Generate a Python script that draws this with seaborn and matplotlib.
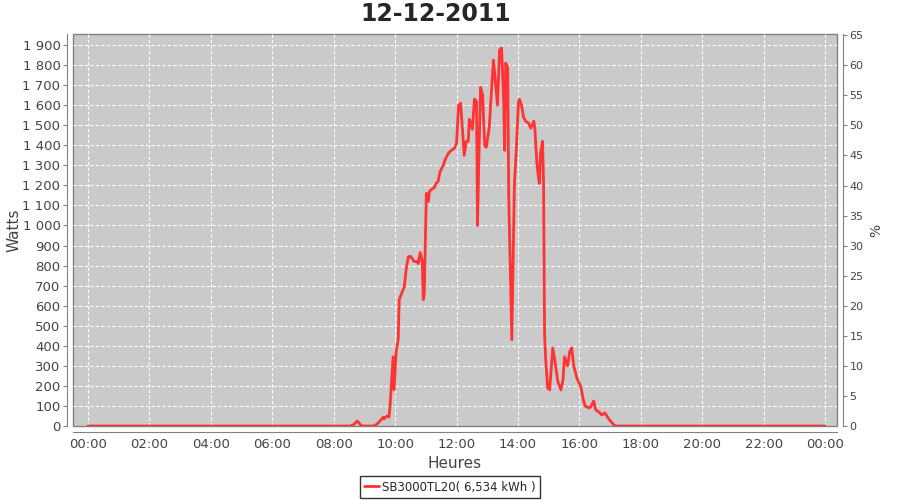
import numpy as np
import pandas as pd
import matplotlib
matplotlib.use("Agg")
import matplotlib.pyplot as plt
import matplotlib.ticker as mticker
import seaborn as sns

# Production du 12-12-2011 (heure, watts)
heures = ["00:00", "08:32", "08:38", "08:46", "08:51", "08:55", "09:19", "09:27",
          "09:37", "09:38", "09:44", "09:48", "09:50", "09:56", "09:58", "10:02",
          "10:06", "10:08", "10:14", "10:18", "10:22", "10:26", "10:31", "10:37",
          "10:43", "10:45", "10:49", "10:53", "10:55", "10:57", "11:01", "11:05",
          "11:07", "11:11", "11:17", "11:20", "11:24", "11:28", "11:34", "11:38",
          "11:44", "11:50", "11:56", "12:00", "12:04", "12:08", "12:11", "12:15",
          "12:19", "12:23", "12:25", "12:31", "12:35", "12:39", "12:41", "12:43",
          "12:47", "12:51", "12:55", "12:58", "13:04", "13:08", "13:12", "13:14",
          "13:20", "13:24", "13:28", "13:32", "13:34", "13:36", "13:40", "13:42",
          "13:48", "13:51", "13:53", "13:57", "14:01", "14:03", "14:07", "14:11",
          "14:15", "14:21", "14:25", "14:31", "14:33", "14:37", "14:40", "14:42",
          "14:44", "14:48", "14:50", "14:52", "14:54", "14:58", "15:02", "15:08",
          "15:12", "15:18", "15:24", "15:28", "15:31", "15:37", "15:41", "15:45",
          "15:49", "15:55", "16:03", "16:07", "16:11", "16:19", "16:22", "16:28",
          "16:32", "16:38", "16:44", "16:50", "16:56", "17:04", "17:10", "24:00"]
watts = [0, 0, 5, 25, 10, 0, 0, 15,
         45, 35, 50, 45, 95, 345, 180, 370,
         430, 630, 670, 695, 790, 845, 845, 820,
         820, 810, 865, 820, 630, 665, 1160, 1120,
         1170, 1180, 1190, 1210, 1220, 1270, 1300, 1330,
         1360, 1375, 1385, 1410, 1600, 1610, 1500, 1350,
         1420, 1420, 1530, 1480, 1630, 1620, 1000, 1260,
         1690, 1650, 1400, 1390, 1490, 1660, 1825, 1775,
         1600, 1875, 1885, 1625, 1375, 1810, 1790, 1140,
         430, 890, 1200, 1390, 1615, 1630, 1600, 1540,
         1520, 1510, 1485, 1520, 1485, 1310, 1240, 1210,
         1360, 1420, 1220, 460, 340, 190, 180, 390,
         330, 220, 180, 230, 345, 300, 370, 390,
         300, 240, 195, 140, 100, 90, 95, 125,
         80, 70, 55, 65, 40, 15, 0, 0]

titre = "12-12-2011"
serie = "SB3000TL20( 6,534 kWh )"
x_ticks = list(range(0, 25, 2))
x_labels = ["%02d:00" % (h % 24) for h in x_ticks]

df = pd.DataFrame({"heure": heures, "watts": watts})
df["h"] = pd.to_timedelta(df["heure"] + ":00") / pd.Timedelta(hours=1)

sns.set_style("white")
plt.rcParams["font.family"] = ["DejaVu Sans"]

fig = plt.figure(figsize=(9, 5), dpi=100)
ax = fig.add_axes([73 / 900, 1 - 426 / 500, (837 - 73) / 900, (426 - 34) / 500])
ax.set_facecolor("#CACACA")
ax.patch.set_edgecolor("#808080")
ax.patch.set_linewidth(1)

sns.lineplot(data=df, x="h", y="watts", ax=ax, color="#FF3333", linewidth=2,
             label=serie, zorder=3)

ax.set_xlim(-0.49, 24.39)
ax.set_ylim(0, 1955)
ax.set_xticks(x_ticks)
ax.set_xticklabels(x_labels)
ax.yaxis.set_major_locator(mticker.MultipleLocator(100))
ax.yaxis.set_major_formatter(mticker.FuncFormatter(
    lambda v, p: "{:,}".format(int(v)).replace(",", " ")))
ax.grid(True, color="white", linestyle=(0, (3, 2)), linewidth=0.8)
ax.set_axisbelow(True)

for s in ["top", "right"]:
    ax.spines[s].set_visible(False)
for s in ["left", "bottom"]:
    ax.spines[s].set_position(("outward", 4))
    ax.spines[s].set_color("#808080")
ax.tick_params(axis="both", direction="out", length=3, width=0.8,
               colors="#808080", labelcolor="#444444", labelsize=9.5, pad=2)

ax.set_xlabel("Heures", fontsize=11, color="#444444", labelpad=3)
ax.set_ylabel("Watts", fontsize=11, color="#444444")
ax.yaxis.set_label_coords(-0.068, 0.5)
fig.text(436 / 900, 1 - 14 / 500, titre, fontsize=17, fontweight="bold",
         ha="center", va="center")

ax2 = ax.twinx()
ax2.set_ylim(0, 65.2)
ax2.yaxis.set_major_locator(mticker.MultipleLocator(5))
for s in ["top", "left", "bottom"]:
    ax2.spines[s].set_visible(False)
ax2.spines["right"].set_position(("outward", 4))
ax2.spines["right"].set_color("#808080")
ax2.tick_params(axis="y", direction="out", length=3, width=0.8,
                colors="#808080", labelcolor="#444444", labelsize=8, pad=2)
ax2.set_ylabel("%", fontsize=10, color="#444444", labelpad=4)
ax2.grid(False)

ax.legend_.remove()
h, l = ax.get_legend_handles_labels()
leg = fig.legend(h, l, loc="lower center", bbox_to_anchor=(0.5, 0.0),
                 frameon=True, fancybox=False, fontsize=8.5, handlelength=1.2,
                 handletextpad=0.3, borderpad=0.35, borderaxespad=0.2)
leg.get_frame().set_edgecolor("black")
leg.get_frame().set_linewidth(1)

fig.savefig("out.png", dpi=100)
